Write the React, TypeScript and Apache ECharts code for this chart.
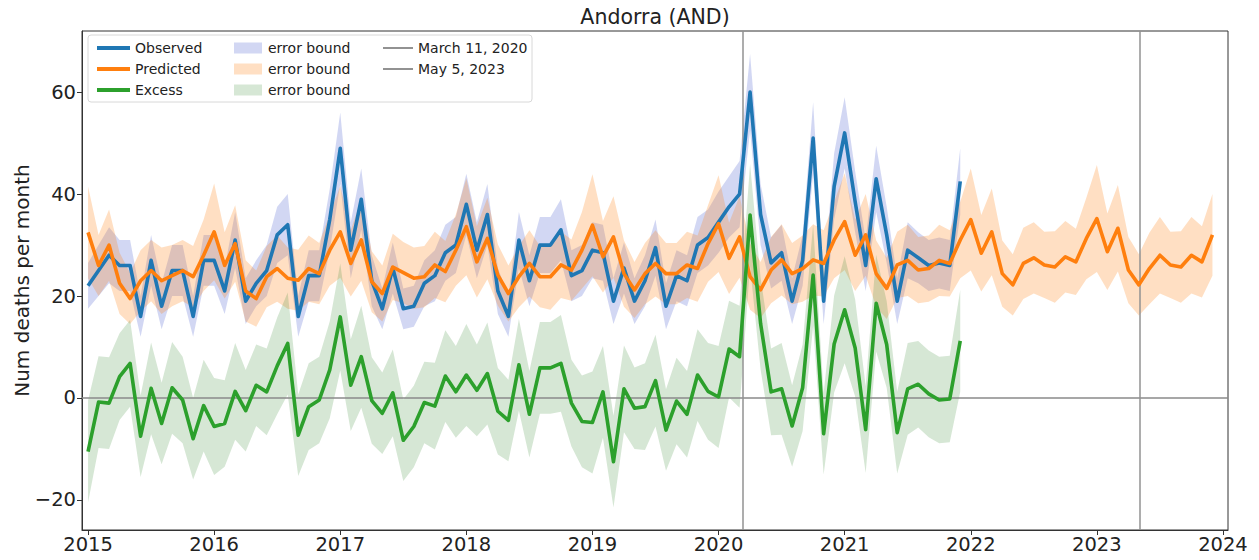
import React, { useEffect, useRef } from 'react';
import * as echarts from 'echarts';

const START_YEAR = 2015;

const observed = [
  22, 25, 28, 26, 26, 16, 27, 18, 25, 25, 16, 27,
  27, 21, 31, 19, 22.5, 25, 32, 34, 16, 24, 24, 35,
  49, 29, 39, 23, 17.5, 25.5, 17.5, 18, 22.5, 24, 28.5, 30,
  38, 29, 36, 21, 16, 31, 23, 30, 30, 33, 24, 25,
  29, 28.5, 19, 25.5, 19, 23, 29.5, 18, 24, 23, 30, 31.5,
  34.5, 37.5, 40, 60, 36, 26.5, 28.5, 19, 27, 51, 19, 41.5,
  52, 38.5, 26, 43, 32, 19, 29, 27.5, 26, 26.5, 26, 42.5,
];
const observedErr = [
  4.5, 5, 5.5, 5, 5, 4, 5, 4.5, 5, 5, 4, 5,
  5, 4.5, 5.5, 4.5, 4.5, 5, 5.5, 6, 4, 5, 5, 6,
  7, 5.5, 6, 5, 4, 5, 4, 4, 4.5, 5, 5.5, 5.5,
  6, 5.5, 6, 4.5, 4, 5.5, 5, 5.5, 5.5, 6, 5, 5,
  5.5, 5.5, 4.5, 5, 4.5, 5, 5.5, 4.5, 5, 5, 5.5, 5.5,
  6, 6, 6.5, 7.5, 6, 5, 5.5, 4.5, 5, 7, 4.5, 6.5,
  7, 6, 5, 6.5, 5.5, 4.5, 5.5, 5, 5, 5, 5, 6.5,
];
const predicted = [
  32.5, 26, 30, 22.5, 19.5, 23, 25, 23, 24, 25, 23.8, 28,
  32.6, 26, 30.3, 21, 19.5, 23.8, 25.4, 23.5, 23.1, 25.4, 24.4, 29,
  32.6, 26.4, 31, 22.8, 20.5, 25.7, 24.6, 23.5, 23.8, 26.1, 24.8, 29,
  33.6, 26.7, 31.3, 24.1, 20.5, 23.8, 26.4, 23.8, 23.8, 26.1, 25.1, 29,
  33.9, 27.7, 31.6, 24.4, 21.2, 24.4, 26.4, 24.4, 24.4, 26.1, 25.4, 30.3,
  34.2, 27.4, 31.6, 23.8, 21.2, 25.1, 27.1, 24.4, 25.4, 27.1, 26.4, 31,
  34.6, 28, 32, 24.4, 21.5, 26.1, 27, 25.1, 25.4, 27, 26.4, 31,
  35, 28.4, 32.6, 24.4, 22.2, 26.4, 27.5, 26.1, 25.7, 27.7, 26.7, 31.3,
  35.2, 28.7, 33.3, 25.1, 22.2, 25.4, 28, 26.1, 25.7, 28, 26.7, 32,
];
const predictedErr = [
  9, 6, 7, 6, 5, 6, 6, 6.5, 6, 6, 6, 7,
  9.5, 6.5, 7.5, 6, 5.5, 6, 6.5, 6, 6, 6.5, 6, 7,
  9, 6.5, 8, 6, 5.5, 6.5, 6, 6, 6, 6.5, 6, 7,
  9.5, 7, 8, 6, 5.5, 6, 6.5, 6, 6.5, 6.5, 6, 7.5,
  10, 7, 8, 6.5, 5.5, 6, 6.5, 6, 6, 6.5, 6.5, 7.5,
  9.5, 7, 8, 6.5, 5.5, 6.5, 7, 6, 6.5, 7, 6.5, 7.5,
  9.5, 7, 8, 6.5, 6, 6.5, 7, 6.5, 6.5, 7, 6.5, 7.5,
  10, 7.5, 8.5, 6.5, 6, 7, 7, 6.5, 7, 7, 6.5, 8,
  10.5, 7.5, 8.5, 6.5, 6, 7, 7.5, 6.5, 7, 7.5, 7, 8,
];
const excess = [
  -10.5, -0.8, -1, 4.2, 6.8, -7.5, 1.9, -5, 2, -0.4, -8, -1.5,
  -5.6, -5, 1.3, -2.5, 2.5, 1.2, 6.3, 10.7, -7.3, -1.7, -0.4, 5.5,
  15.9, 2.5, 8.1, -0.5, -3, 1, -8.3, -5.6, -0.9, -1.6, 4.3, 1.2,
  4.5, 1.5, 4.8, -2.6, -4.4, 6.5, -3.2, 5.9, 5.9, 6.8, -1, -4.6,
  -4.8, 1.2, -12.5, 1.8, -2, -1.7, 3.4, -6.3, -0.6, -3.2, 4.5, 1.3,
  0.2, 9.6, 8.1, 35.9, 14.6, 1.2, 1.8, -5.5, 2, 24.1, -7, 10.6,
  17.3, 9.8, -6.2, 18.6, 10.5, -6.8, 1.8, 2.7, 0.8, -0.4, -0.2, 11.2,
];
const excessErr = [
  10, 9, 9, 8.5, 8.5, 8, 9, 8, 9, 8.5, 8, 9,
  9.5, 8.5, 9.5, 8, 8, 8.5, 9.5, 10, 8, 8.5, 8.5, 9.5,
  10.5, 9, 10, 8.5, 8, 8.5, 8, 8, 8, 8.5, 9, 9,
  10, 9, 10, 8.5, 8, 9, 8.5, 9, 9, 9.5, 8.5, 9,
  10, 9, 9, 8.5, 8, 8.5, 9, 8, 8.5, 8.5, 9, 9.5,
  10, 9.5, 10, 10, 9, 8.5, 9, 8, 8.5, 10, 8, 9.5,
  10.5, 9.5, 8.5, 9.5, 8.5, 8, 9, 8.5, 8.5, 8.5, 8.5, 10,
];

const yearTicks = [2015, 2016, 2017, 2018, 2019, 2020, 2021, 2022, 2023, 2024];
const yTicks = [-20, 0, 20, 40, 60];
const events = [
  { name: 'March 11, 2020', year: 2020, dayOffset: 70, daysInYear: 366 },
  { name: 'May 5, 2023', year: 2023, dayOffset: 124, daysInYear: 365 },
];

const C_OBS = '#1f77b4';
const C_PRED = '#ff7f0e';
const C_EXC = '#2ca02c';
const B_OBS = 'rgba(80,100,210,0.26)';
const B_PRED = 'rgba(255,127,14,0.25)';
const B_EXC = 'rgba(50,135,45,0.2)';
const FONT = 'DejaVu Sans';

const monthX = (i: number) => START_YEAR + i / 12;
const toPairs = (vals: number[]) => vals.map((v, i) => [monthX(i), v]);

function bandSeries(name: string, vals: number[], errs: number[], color: string, z: number) {
  const data = vals.map((v, i) => [monthX(i), v - errs[i], v + errs[i]]);
  return {
    type: 'custom',
    name,
    z,
    silent: true,
    itemStyle: { color },
    encode: { x: 0, y: [1, 2] },
    data,
    renderItem: (params: any, api: any) => {
      if (params.dataIndex !== 0) return null;
      const upper = data.map((d) => api.coord([d[0], d[2]]));
      const lower = data.map((d) => api.coord([d[0], d[1]])).reverse();
      return {
        type: 'polygon',
        shape: { points: upper.concat(lower) },
        style: { fill: color },
      };
    },
  };
}

function lineSeries(name: string, vals: number[], color: string, z: number) {
  return {
    type: 'line',
    name,
    z,
    data: toPairs(vals),
    symbol: 'none',
    showSymbol: false,
    color,
    itemStyle: { color },
    lineStyle: { color, width: 3.6, join: 'round' },
  };
}

export default function App() {
  const ref = useRef<HTMLDivElement>(null);
  useEffect(() => {
    if (!ref.current) return;
    const chart = echarts.init(ref.current, undefined, { renderer: 'svg' });
    const legendText = { fontFamily: FONT, fontSize: 14, color: '#222', lineHeight: 14 };
    const eventSeries = events.map((e) => {
      const x = e.year + e.dayOffset / e.daysInYear;
      return {
        type: 'line',
        name: e.name,
        z: 4,
        data: [[x, 0]],
        symbol: 'none',
        showSymbol: false,
        color: '#929292',
        itemStyle: { color: '#929292' },
        lineStyle: { color: '#929292', width: 1.5 },
        markLine: {
          silent: true,
          symbol: 'none',
          label: { show: false },
          lineStyle: { color: '#929292', width: 1.5, type: 'solid' },
          data: [{ xAxis: x }],
        },
      };
    });
    const option: any = {
      animation: false,
      backgroundColor: '#ffffff',
      title: {
        text: 'Andorra (AND)',
        left: 655,
        top: 6,
        padding: 0,
        textAlign: 'center',
        textStyle: { fontFamily: FONT, fontSize: 20.5, fontWeight: 'normal', color: '#222' },
      },
      grid: {
        left: 82,
        right: 31,
        top: 31,
        bottom: 30,
        show: true,
        borderColor: '#333',
        borderWidth: 1,
        containLabel: false,
        outerBoundsMode: 'none',
      },
      xAxis: {
        type: 'value',
        min: 2014.952,
        max: 2024.04,
        axisLine: { show: true, onZero: false, lineStyle: { color: '#333', width: 1 } },
        axisTick: { show: true, length: 5, customValues: yearTicks, lineStyle: { color: '#333' } },
        axisLabel: {
          customValues: yearTicks,
          fontFamily: FONT,
          fontSize: 19.5,
          color: '#222',
          margin: 4,
          formatter: (v: number) => String(Math.round(v)),
        },
        splitLine: { show: false },
      },
      yAxis: {
        type: 'value',
        min: -25.9,
        max: 72,
        name: 'Num deaths per month',
        nameLocation: 'middle',
        nameGap: 50,
        nameMoveOverlap: false,
        nameTextStyle: { fontFamily: FONT, fontSize: 20, color: '#222' },
        axisLine: { show: true, onZero: false, lineStyle: { color: '#333', width: 1 } },
        axisTick: { show: true, length: 5, customValues: yTicks, lineStyle: { color: '#333' } },
        axisLabel: {
          customValues: yTicks,
          fontFamily: FONT,
          fontSize: 19.5,
          color: '#222',
          margin: 6,
          formatter: (v: number) => (v < 0 ? '\u2212' + Math.abs(v) : String(v)),
        },
        splitLine: { show: false },
      },
      graphic: [
        {
          type: 'rect',
          z: 1,
          shape: { x: 88, y: 35, width: 444, height: 67, r: 3 },
          style: { fill: 'rgba(255,255,255,0.85)', stroke: '#d8d8d8', lineWidth: 1 },
        },
      ],
      legend: [
        {
          orient: 'vertical',
          left: 92,
          top: 36,
          itemWidth: 33,
          itemHeight: 4,
          itemGap: 7,
          icon: 'rect',
          selectedMode: false,
          textStyle: { ...legendText },
          data: ['Observed', 'Predicted', 'Excess'],
        },
        {
          orient: 'vertical',
          left: 229,
          top: 36,
          itemWidth: 28,
          itemHeight: 11,
          itemGap: 7,
          icon: 'rect',
          selectedMode: false,
          textStyle: { ...legendText, padding: [0, 0, 0, 1] },
          formatter: () => 'error bound',
          data: ['error bound (Observed)', 'error bound (Predicted)', 'error bound (Excess)'],
        },
        {
          orient: 'vertical',
          left: 378,
          top: 36,
          itemWidth: 30,
          itemHeight: 2,
          itemGap: 7,
          icon: 'rect',
          selectedMode: false,
          textStyle: { ...legendText },
          data: events.map((e) => e.name),
        },
      ],
      series: [
        bandSeries('error bound (Observed)', observed, observedErr, B_OBS, 1),
        bandSeries('error bound (Predicted)', predicted, predictedErr, B_PRED, 1),
        bandSeries('error bound (Excess)', excess, excessErr, B_EXC, 1),
        {
          type: 'line',
          name: 'zero',
          z: 2,
          data: [[START_YEAR, 0]],
          symbol: 'none',
          showSymbol: false,
          lineStyle: { width: 0 },
          markLine: {
            silent: true,
            symbol: 'none',
            label: { show: false },
            lineStyle: { color: '#8a8a8a', width: 1.5, type: 'solid' },
            data: [{ yAxis: 0 }],
          },
        },
        ...eventSeries,
        lineSeries('Observed', observed, C_OBS, 5),
        lineSeries('Predicted', predicted, C_PRED, 6),
        lineSeries('Excess', excess, C_EXC, 7),
      ],
    };
    chart.setOption(option);
    return () => chart.dispose();
  }, []);
  return (
    <div
      ref={ref}
      style={{ position: 'absolute', left: 0, top: 0, width: 1259, height: 560, background: '#fff' }}
    />
  );
}
